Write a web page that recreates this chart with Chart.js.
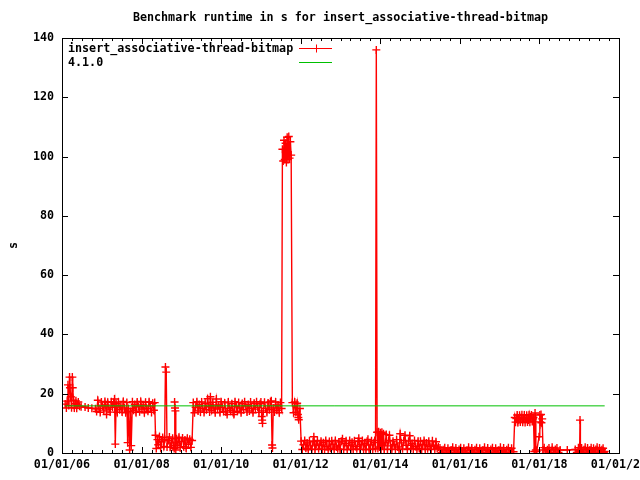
<!DOCTYPE html>
<html>
<head>
<meta charset="utf-8">
<title>insert_associative-thread-bitmap</title>
<script src="https://cdn.jsdelivr.net/npm/chart.js@4.4.1/dist/chart.umd.min.js"></script>
<style>
    html, body { margin: 0; padding: 0; background: #fff; }
    canvas { display: block; }
</style>
</head>
<body>
<canvas id="benchChart" width="640" height="480"></canvas>
<script>
// runtime samples, [date as decimal year, seconds]
const runs2006 = [
    [2006.08, 16.5], [2006.11, 15.2], [2006.13, 17.5], [2006.15, 23.0], [2006.17, 16.0], [2006.19, 25.6],
    [2006.20, 22.0], [2006.22, 19.0], [2006.24, 15.3], [2006.26, 25.6], [2006.27, 22.0], [2006.29, 17.8],
    [2006.31, 15.2], [2006.33, 16.6], [2006.35, 17.6], [2006.37, 15.1], [2006.39, 16.2], [2006.41, 17.2],
    [2006.44, 15.8],
    [2006.48, 15.6], [2006.58, 15.5], [2006.66, 15.2], [2006.75, 15.1], [2006.84, 14.9],
    [2006.87, 14.0], [2006.90, 17.8], [2006.93, 15.0], [2006.96, 13.7], [2006.99, 17.2], [2007.02, 15.8],
    [2007.05, 14.2], [2007.08, 17.4], [2007.10, 16.2], [2007.12, 13.0], [2007.15, 17.1], [2007.18, 14.8],
    [2007.21, 13.8], [2007.24, 17.3], [2007.27, 15.4], [2007.30, 17.0], [2007.32, 18.2], [2007.34, 3.0],
    [2007.36, 16.6], [2007.39, 13.7], [2007.42, 17.2], [2007.45, 14.6], [2007.48, 16.0], [2007.51, 13.8],
    [2007.54, 17.4], [2007.57, 15.2], [2007.60, 13.6], [2007.63, 17.0], [2007.65, 3.5], [2007.67, 15.0],
    [2007.70, 1.0], [2007.72, 14.0], [2007.74, 2.5], [2007.77, 17.3], [2007.80, 14.4], [2007.83, 16.4],
    [2007.86, 13.7], [2007.89, 17.2], [2007.92, 15.6], [2007.95, 13.9], [2007.98, 17.4], [2008.01, 14.8],
    [2008.04, 16.2], [2008.07, 13.6], [2008.10, 17.1], [2008.13, 15.0], [2008.16, 14.1], [2008.19, 17.3],
    [2008.22, 15.8], [2008.25, 13.7], [2008.28, 16.8], [2008.31, 14.4], [2008.33, 17.0]
];
const runs2008 = [
    [2008.35, 6.0], [2008.37, 1.5], [2008.40, 4.5], [2008.42, 2.8], [2008.45, 5.5], [2008.48, 1.8],
    [2008.50, 3.8], [2008.53, 5.2], [2008.56, 2.2], [2008.58, 4.6], [2008.60, 29.0], [2008.62, 27.3],
    [2008.64, 2.0], [2008.67, 4.2], [2008.70, 5.4], [2008.72, 1.9], [2008.75, 3.4], [2008.78, 5.0],
    [2008.80, 2.5], [2008.82, 1.5], [2008.83, 17.2], [2008.84, 15.2], [2008.85, 14.2], [2008.86, 1.0],
    [2008.88, 4.8], [2008.91, 2.6], [2008.94, 5.3], [2008.97, 1.8], [2009.00, 3.9], [2009.03, 5.1],
    [2009.06, 2.1], [2009.09, 4.4], [2009.12, 1.6], [2009.15, 5.0], [2009.18, 2.9], [2009.21, 4.6],
    [2009.24, 1.9], [2009.27, 4.2]
];
const runs2009 = [
    [2009.30, 17.0], [2009.33, 13.6], [2009.36, 15.4], [2009.39, 17.3], [2009.42, 14.2], [2009.45, 16.4],
    [2009.48, 13.8], [2009.51, 17.2], [2009.54, 15.0], [2009.57, 13.7], [2009.60, 16.8], [2009.63, 14.6],
    [2009.66, 18.3], [2009.69, 15.6], [2009.71, 13.8], [2009.73, 19.0], [2009.76, 14.4], [2009.79, 17.1],
    [2009.82, 15.2], [2009.85, 13.6], [2009.88, 18.2], [2009.91, 14.8], [2009.94, 16.2], [2009.97, 13.7],
    [2010.00, 17.3], [2010.03, 15.4], [2010.06, 14.0], [2010.09, 16.9], [2010.12, 13.8], [2010.15, 13.0],
    [2010.18, 17.2], [2010.21, 15.0], [2010.24, 14.3], [2010.27, 16.6], [2010.30, 13.7], [2010.32, 13.0],
    [2010.35, 17.3], [2010.38, 15.6], [2010.41, 14.1], [2010.44, 17.0], [2010.47, 15.2], [2010.50, 13.6],
    [2010.53, 16.7], [2010.56, 14.6], [2010.59, 17.3], [2010.62, 15.8], [2010.65, 13.8], [2010.68, 16.4],
    [2010.71, 14.2], [2010.74, 17.2], [2010.77, 15.0], [2010.80, 13.6], [2010.83, 16.8], [2010.86, 14.8],
    [2010.89, 17.3], [2010.92, 15.4], [2010.95, 13.7], [2010.98, 16.6], [2011.00, 17.2], [2011.02, 12.3],
    [2011.03, 11.1], [2011.04, 10.0], [2011.06, 14.2], [2011.09, 17.1], [2011.12, 15.0], [2011.15, 13.7],
    [2011.18, 16.9], [2011.21, 14.6], [2011.24, 17.3], [2011.26, 17.6], [2011.28, 2.7], [2011.29, 1.7],
    [2011.31, 15.2], [2011.34, 13.8], [2011.37, 17.2], [2011.40, 14.4], [2011.43, 16.2], [2011.46, 13.6],
    [2011.49, 17.0], [2011.52, 15.0],
    [2011.54, 102.5], [2011.56, 98.5], [2011.58, 105.5], [2011.60, 99.0], [2011.62, 104.5], [2011.64, 98.0],
    [2011.66, 106.5], [2011.68, 99.0], [2011.70, 106.8], [2011.72, 99.5], [2011.74, 105.0], [2011.76, 100.5],
    [2011.79, 17.0], [2011.82, 13.6], [2011.85, 17.2], [2011.88, 13.8], [2011.91, 16.8], [2011.93, 13.0],
    [2011.94, 12.0], [2011.95, 11.2], [2011.98, 15.0]
];
const runs2012 = [
    [2012.01, 4.0], [2012.04, 1.2], [2012.07, 2.8], [2012.10, 4.2], [2012.13, 1.6], [2012.16, 3.4],
    [2012.19, 1.1], [2012.22, 4.1], [2012.25, 2.4], [2012.28, 1.3], [2012.31, 3.8], [2012.33, 5.5],
    [2012.36, 1.2], [2012.39, 3.0], [2012.42, 4.2], [2012.45, 1.4], [2012.48, 2.6], [2012.51, 4.0],
    [2012.54, 1.2], [2012.57, 3.5], [2012.60, 1.3], [2012.63, 4.2], [2012.66, 2.2], [2012.69, 1.1],
    [2012.72, 3.9], [2012.75, 1.6], [2012.78, 4.1], [2012.81, 2.9], [2012.84, 1.2], [2012.87, 4.2],
    [2012.90, 2.0], [2012.93, 1.4], [2012.96, 3.7], [2012.99, 1.2], [2013.02, 4.0], [2013.05, 4.8],
    [2013.08, 1.3], [2013.11, 3.2], [2013.14, 4.1], [2013.17, 1.1], [2013.20, 2.5], [2013.23, 4.2],
    [2013.26, 1.3], [2013.29, 3.6], [2013.32, 1.2], [2013.35, 4.1], [2013.38, 2.2], [2013.41, 1.4],
    [2013.44, 3.9], [2013.46, 5.0], [2013.49, 1.2], [2013.52, 2.8], [2013.55, 4.2], [2013.58, 1.3],
    [2013.61, 3.3], [2013.64, 1.1], [2013.67, 4.0], [2013.69, 4.6], [2013.72, 1.3], [2013.75, 2.7],
    [2013.78, 4.1], [2013.81, 1.2], [2013.84, 3.5], [2013.86, 4.2], [2013.88, 1.5],
    [2013.90, 136.0],
    [2013.92, 7.0], [2013.94, 1.5], [2013.96, 7.2], [2013.98, 2.0], [2014.00, 6.8], [2014.02, 1.3],
    [2014.04, 7.0], [2014.06, 2.5], [2014.08, 6.5], [2014.10, 1.2], [2014.13, 3.6], [2014.15, 6.2],
    [2014.18, 1.3], [2014.21, 4.2], [2014.23, 6.0], [2014.26, 2.4], [2014.29, 1.2], [2014.32, 4.0],
    [2014.35, 2.8], [2014.38, 1.3], [2014.41, 4.5], [2014.44, 2.0], [2014.47, 1.2], [2014.50, 6.5],
    [2014.53, 3.4], [2014.56, 1.4], [2014.59, 4.2], [2014.62, 6.0], [2014.65, 2.6], [2014.68, 1.2],
    [2014.71, 4.0], [2014.74, 5.8], [2014.77, 1.5], [2014.80, 3.2], [2014.83, 1.3], [2014.86, 4.2],
    [2014.89, 2.2], [2014.92, 1.2], [2014.95, 4.0], [2014.98, 1.5],
    [2015.01, 4.0], [2015.04, 1.3], [2015.07, 2.8], [2015.10, 4.2], [2015.13, 1.2], [2015.16, 3.4],
    [2015.19, 1.4], [2015.22, 4.0], [2015.25, 2.2], [2015.28, 1.2], [2015.31, 4.1], [2015.34, 2.6],
    [2015.37, 1.3], [2015.40, 3.8], [2015.43, 1.5], [2015.46, 2.0]
];
const runs2015 = [
    [2015.50, 1.7], [2015.54, 0.2], [2015.58, 1.1], [2015.62, 1.8], [2015.66, 0.3], [2015.70, 1.6],
    [2015.74, 0.2], [2015.78, 1.0], [2015.82, 1.9], [2015.86, 0.3], [2015.90, 1.7], [2015.94, 0.2],
    [2015.98, 1.2], [2016.02, 1.8], [2016.06, 0.3], [2016.10, 1.6], [2016.14, 0.2], [2016.18, 0.9],
    [2016.22, 1.9], [2016.26, 0.3], [2016.30, 1.7], [2016.34, 0.2], [2016.38, 1.1], [2016.42, 1.8],
    [2016.46, 0.3], [2016.50, 1.6], [2016.54, 0.2], [2016.58, 1.0], [2016.62, 1.9], [2016.66, 0.3],
    [2016.70, 1.7], [2016.74, 0.2], [2016.78, 1.2], [2016.82, 1.8], [2016.86, 0.3], [2016.90, 1.6],
    [2016.94, 0.2], [2016.98, 0.9], [2017.02, 1.9], [2017.06, 0.3], [2017.10, 1.7], [2017.14, 0.2],
    [2017.18, 1.1], [2017.22, 1.8], [2017.26, 0.3], [2017.30, 1.6], [2017.35, 0.4],
    [2017.38, 12.0], [2017.40, 10.4], [2017.42, 11.6], [2017.44, 12.8], [2017.46, 10.3], [2017.48, 11.2],
    [2017.50, 12.7], [2017.52, 10.5], [2017.54, 12.0], [2017.56, 12.9], [2017.58, 10.4], [2017.60, 11.4],
    [2017.62, 12.8], [2017.64, 10.3], [2017.66, 11.8], [2017.68, 12.7], [2017.70, 10.5], [2017.72, 11.1],
    [2017.74, 12.9], [2017.76, 10.4], [2017.78, 12.2], [2017.80, 12.8], [2017.82, 10.6], [2017.84, 11.5],
    [2017.85, 12.0],
    [2017.87, 0.5], [2017.89, 13.5], [2017.91, 1.0], [2017.93, 0.5], [2017.99, 5.5], [2018.01, 12.8],
    [2018.02, 10.5], [2018.04, 13.0], [2018.05, 10.2], [2018.07, 11.5], [2018.09, 1.0],
    [2018.12, 1.8], [2018.16, 0.3], [2018.20, 1.1], [2018.24, 1.7], [2018.28, 0.2], [2018.32, 1.9],
    [2018.36, 0.3], [2018.40, 1.2], [2018.44, 1.7], [2018.48, 0.2], [2018.52, 1.0], [2018.70, 1.0],
    [2018.90, 1.2], [2018.94, 0.2], [2018.98, 1.8], [2019.01, 0.3], [2019.02, 11.1], [2019.03, 0.5],
    [2019.06, 1.7], [2019.09, 0.2], [2019.12, 1.1], [2019.15, 1.9], [2019.18, 0.3], [2019.21, 1.7],
    [2019.24, 0.2], [2019.27, 1.0], [2019.30, 1.8], [2019.33, 0.3], [2019.36, 1.6], [2019.39, 0.2],
    [2019.42, 1.2], [2019.45, 1.9], [2019.48, 0.3], [2019.51, 1.7], [2019.54, 0.2], [2019.57, 1.1],
    [2019.60, 1.6], [2019.62, 0.2], [2019.64, 0.5]
];

// reference release 4.1.0
const baselineDates = [2006.08, 2019.64];
const baselineSeconds = [15.9, 15.9];

const xTickYears = [2006, 2008, 2010, 2012, 2014, 2016, 2018, 2020];
const xTickLabels = ['01/01/06', '01/01/08', '01/01/10', '01/01/12', '01/01/14', '01/01/16', '01/01/18', '01/01/20'];

const FONT = 'DejaVu Sans Mono';
const RED = '#ff0000';
const GREEN = '#00c000';

const runPoints = [...runs2006, ...runs2008, ...runs2009, ...runs2012, ...runs2015]
    .map(([x, y]) => ({ x, y }));
const baselinePoints = baselineDates.map((x, i) => ({ x, y: baselineSeconds[i] }));

// gnuplot style frame: border, inward ticks on all sides, key with sample after text
const gnuplotFrame = {
    id: 'gnuplotFrame',
    afterDatasetsDraw(chart) {
        const { ctx, chartArea: a, scales: { x, y } } = chart;
        ctx.save();
        ctx.strokeStyle = '#000';
        ctx.lineWidth = 1;
        ctx.beginPath();
        for (let t = x.min; t <= x.max; t += 0.25) {
            const px = Math.round(x.getPixelForValue(t)) + 0.5;
            const len = xTickYears.includes(t) ? 6 : 3;
            ctx.moveTo(px, a.bottom); ctx.lineTo(px, a.bottom - len);
            ctx.moveTo(px, a.top); ctx.lineTo(px, a.top + len);
        }
        y.ticks.forEach(tk => {
            const py = Math.round(y.getPixelForValue(tk.value)) + 0.5;
            ctx.moveTo(a.left, py); ctx.lineTo(a.left + 6, py);
            ctx.moveTo(a.right, py); ctx.lineTo(a.right - 6, py);
        });
        ctx.stroke();
        ctx.strokeRect(Math.round(a.left) + 0.5, Math.round(a.top) + 0.5,
            Math.round(a.right - a.left), Math.round(a.bottom - a.top));

        // key
        ctx.font = 'bold 11.7px "' + FONT + '"';
        ctx.textBaseline = 'middle';
        ctx.textAlign = 'left';
        ctx.fillStyle = '#000';
        chart.data.datasets.forEach((ds, i) => {
            const ky = Math.round(a.top + 10 + i * 14) + 0.5;
            ctx.fillText(ds.label, a.left + 6, ky);
            ctx.strokeStyle = ds.borderColor;
            ctx.beginPath();
            ctx.moveTo(a.left + 237, ky); ctx.lineTo(a.left + 270, ky);
            if (ds.pointRadius > 0) {
                ctx.moveTo(a.left + 254.5, ky - 4); ctx.lineTo(a.left + 254.5, ky + 4);
            }
            ctx.stroke();
        });
        ctx.restore();
    }
};

new Chart(document.getElementById('benchChart'), {
    type: 'line',
    data: {
        datasets: [
            {
                label: 'insert_associative-thread-bitmap',
                data: runPoints,
                borderColor: RED,
                backgroundColor: RED,
                borderWidth: 1.4,
                pointStyle: 'cross',
                pointRadius: 4,
                pointBorderWidth: 1.4,
                pointBorderColor: RED,
                tension: 0,
                order: 2
            },
            {
                label: '4.1.0',
                data: baselinePoints,
                borderColor: GREEN,
                borderWidth: 1,
                pointRadius: 0,
                tension: 0,
                order: 1
            }
        ]
    },
    options: {
        responsive: false,
        animation: false,
        layout: { padding: { left: 0, right: 21, top: 0, bottom: 0 } },
        plugins: {
            legend: { display: false },
            tooltip: { enabled: false },
            title: {
                display: true,
                fullSize: false,
                text: 'Benchmark runtime in s for insert_associative-thread-bitmap',
                color: '#000',
                font: { family: FONT, size: 11.7, weight: 'bold', lineHeight: 1.2 },
                padding: { top: 11, bottom: 13 }
            }
        },
        scales: {
            x: {
                type: 'linear',
                min: 2006,
                max: 2020,
                grid: { display: false, drawTicks: false },
                border: { display: false },
                ticks: {
                    stepSize: 2,
                    padding: 5,
                    maxRotation: 0,
                    autoSkip: false,
                    color: '#000',
                    font: { family: FONT, size: 11.7, weight: 'bold' },
                    callback: v => xTickLabels[xTickYears.indexOf(v)]
                },
                afterFit: s => { s.height = 27; s.paddingLeft = 0; s.paddingRight = 0; }
            },
            y: {
                min: 0,
                max: 140,
                grid: { display: false, drawTicks: false },
                border: { display: false },
                title: {
                    display: true,
                    text: 's',
                    color: '#000',
                    font: { family: FONT, size: 11.7, weight: 'bold', lineHeight: 1.2 },
                    padding: { top: 7, bottom: 0 }
                },
                ticks: {
                    stepSize: 20,
                    padding: 8,
                    color: '#000',
                    font: { family: FONT, size: 11.7, weight: 'bold' }
                },
                afterFit: s => { s.width = 62; s.paddingTop = 0; s.paddingBottom = 0; }
            }
        }
    },
    plugins: [gnuplotFrame]
});
</script>
</body>
</html>
